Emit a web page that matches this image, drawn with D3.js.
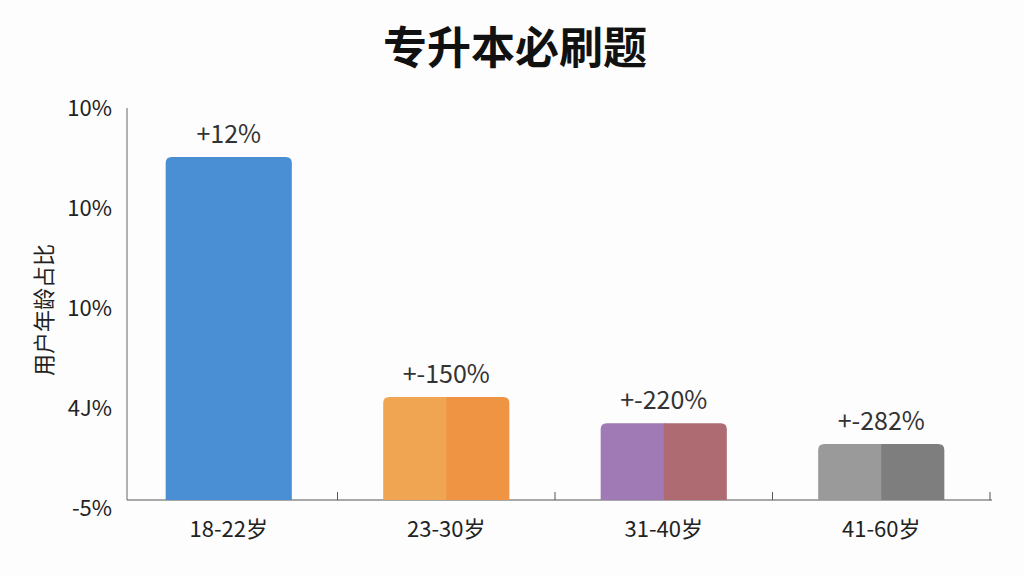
<!DOCTYPE html>
<html><head><meta charset="utf-8">
<script src="https://cdn.jsdelivr.net/npm/d3@7"></script>
<style>body{margin:0;background:#fdfdfd;font-family:"Noto Sans CJK SC","Noto Sans",sans-serif}</style>
</head><body><svg id="c" width="1024" height="576"></svg>
<script>
const categories = ["18-22岁", "23-30岁", "31-40岁", "41-60岁"];
const values = [87.5, 26.3, 19.6, 14.3];
const valueLabels = ["+12%", "+-150%", "+-220%", "+-282%"];
const leftColors = ["#4a8fd3", "#f0a552", "#a07ab4", "#9a9a9a"];
const rightColors = ["#4a8fd3", "#ef9442", "#ae6c72", "#7e7e7e"];
const tickValues = [100, 74.5, 49, 23.5, -2];
const tickLabels = ["10%", "10%", "10%", "4J%", "-5%"];

const svg = d3.select("#c");
const x = d3.scaleBand().domain(categories).range([120, 990]).paddingInner(0.42).paddingOuter(0.21);
const y = d3.scaleLinear().domain([0, 100]).range([500, 108]);

svg.append("text").attr("x", 515).attr("y", 64).attr("text-anchor", "middle")
  .attr("font-size", 44).attr("font-weight", "bold").attr("fill", "#111").text("专升本必刷题");

svg.append("line").attr("x1", 127).attr("x2", 127).attr("y1", 108).attr("y2", 500).attr("stroke", "#666");
svg.append("line").attr("x1", 127).attr("x2", 992).attr("y1", 500).attr("y2", 500).attr("stroke", "#555");
const bounds = categories.slice(1).map(c => x(c) - x.step() * 0.21).concat([990]);
svg.selectAll(".xt").data(bounds).join("line").attr("x1", d => d).attr("x2", d => d)
  .attr("y1", 492).attr("y2", 500).attr("stroke", "#555");

svg.selectAll(".yl").data(tickValues).join("text")
  .attr("x", 112).attr("y", d => y(d) + 8).attr("text-anchor", "end")
  .attr("font-size", 22).attr("fill", "#222").text((d, i) => tickLabels[i]);

svg.append("text").attr("transform", "translate(52,310) rotate(-90)").attr("text-anchor", "middle")
  .attr("font-size", 22).attr("fill", "#222").text("用户年龄占比");

const g = svg.selectAll(".bar").data(categories).join("g");
g.append("path").attr("fill", (d, i) => leftColors[i]).attr("d", (d, i) => {
  const x0 = x(d), w = x.bandwidth() / 2 + 1, y0 = y(values[i]), r = 6;
  return `M${x0},500V${y0 + r}Q${x0},${y0} ${x0 + r},${y0}H${x0 + w}V500Z`;
});
g.append("path").attr("fill", (d, i) => rightColors[i]).attr("d", (d, i) => {
  const x0 = x(d) + x.bandwidth() / 2, w = x.bandwidth() / 2, y0 = y(values[i]), r = 6;
  return `M${x0},500V${y0}H${x0 + w - r}Q${x0 + w},${y0} ${x0 + w},${y0 + r}V500Z`;
});
g.append("text").attr("x", d => x(d) + x.bandwidth() / 2).attr("y", (d, i) => y(values[i]) - 14)
  .attr("text-anchor", "middle").attr("font-size", 25).attr("fill", "#333").text((d, i) => valueLabels[i]);
g.append("text").attr("x", d => x(d) + x.bandwidth() / 2).attr("y", 537)
  .attr("text-anchor", "middle").attr("font-size", 22).attr("fill", "#222").text(d => d);
</script></body></html>
